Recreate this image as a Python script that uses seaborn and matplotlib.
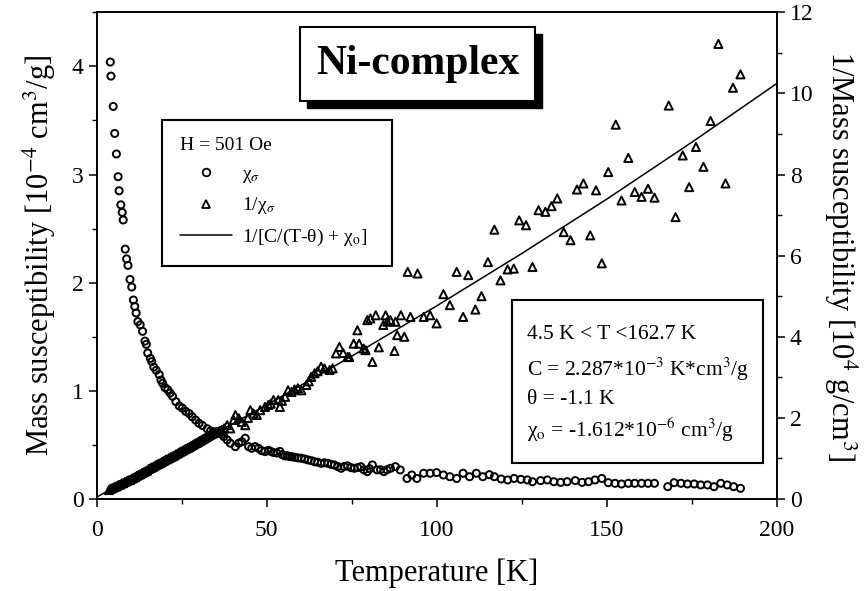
import matplotlib
matplotlib.use("Agg")
import matplotlib.pyplot as plt
import seaborn as sns
from matplotlib.lines import Line2D
from matplotlib.patches import Rectangle
from matplotlib.ticker import MultipleLocator

# ---- data: chi (left axis, 10^-4 cm^3/g) ----
chi_T = [4.0, 4.2, 4.85, 5.3, 5.8, 6.3, 6.6, 7.1, 7.5, 7.8, 8.4, 8.8, 9.2, 9.8, 10.3,
         10.8, 11.2, 11.6, 12.1, 12.8, 13.5, 14.2, 14.6, 15.0, 15.8, 16.2, 16.8, 17.5,
         18.4, 18.9, 19.4, 20.1, 20.9, 21.6, 22.3, 23.3, 24.3, 25.2, 26.2, 27.2, 28.1,
         29.1, 30.1, 31.1, 32.5, 33.5, 34.3, 35.1, 36.0, 36.9, 37.4, 38.4, 39.3, 40.8,
         41.8, 42.7, 43.7, 44.7, 45.6, 46.6, 47.6, 48.5, 49.5, 50.5, 51.2, 52.0, 53.0,
         53.9, 54.6, 55.4, 56.1, 56.8, 57.5, 58.3, 59.2, 60.2, 61.2, 62.2, 63.1, 64.1,
         65.0, 66.0, 67.0, 68.0, 69.0, 69.9, 70.9, 71.9, 72.8, 73.8, 74.8, 75.8, 76.8,
         77.7, 78.6, 79.6, 80.3, 81.1, 82.5, 83.5, 84.5, 85.4, 86.4, 87.9, 89.3, 91.3,
         92.7, 94.2, 96.2, 98.1, 100.0, 102.0, 103.9, 105.9, 107.8, 109.7, 111.7, 113.6,
         115.5, 117.0, 119.0, 120.9, 122.8, 124.8, 126.7, 128.2, 130.6, 132.6, 134.5,
         136.5, 138.4, 140.8, 142.8, 144.7, 146.6, 148.6, 150.5, 152.5, 154.4, 156.4,
         158.3, 160.3, 162.2, 164.1, 168.0, 169.9, 171.9, 173.8, 175.8, 177.7, 179.7,
         181.6, 183.6, 185.5, 187.4, 189.4]
chi_val = [4.04, 3.91, 3.63, 3.38, 3.19, 2.98, 2.85, 2.72, 2.65, 2.58, 2.31, 2.22, 2.16,
           2.03, 1.96, 1.84, 1.78, 1.72, 1.64, 1.61, 1.55, 1.46, 1.43, 1.35, 1.30, 1.27,
           1.22, 1.19, 1.15, 1.10, 1.07, 1.03, 1.01, 0.98, 0.95, 0.90, 0.86, 0.84, 0.81,
           0.79, 0.76, 0.73, 0.70, 0.68, 0.65, 0.63, 0.62, 0.62, 0.61, 0.60, 0.577, 0.546,
           0.516, 0.484, 0.516, 0.53, 0.562, 0.484, 0.469, 0.484, 0.469, 0.447, 0.438,
           0.45, 0.44, 0.43, 0.425, 0.44, 0.41, 0.398, 0.40, 0.392, 0.39, 0.386, 0.38,
           0.377, 0.37, 0.361, 0.355, 0.345, 0.34, 0.33, 0.335, 0.33, 0.32, 0.315, 0.30,
           0.284, 0.30, 0.306, 0.29, 0.284, 0.29, 0.299, 0.27, 0.253, 0.28, 0.315, 0.269,
           0.27, 0.253, 0.27, 0.284, 0.299, 0.269, 0.19, 0.222, 0.19, 0.238, 0.238, 0.244,
           0.222, 0.206, 0.19, 0.238, 0.206, 0.238, 0.206, 0.225, 0.206, 0.185, 0.176,
           0.19, 0.182, 0.176, 0.16, 0.17, 0.176, 0.16, 0.154, 0.16, 0.17, 0.154, 0.16,
           0.176, 0.19, 0.151, 0.145, 0.139, 0.145, 0.145, 0.145, 0.145, 0.145, 0.114,
           0.151, 0.145, 0.139, 0.139, 0.13, 0.13, 0.114, 0.145, 0.13, 0.114, 0.099]

# ---- data: 1/chi (right axis, 10^4 g/cm^3) ----
inv_T = [3.6, 4.0, 4.4, 4.9, 5.3, 5.8, 6.3, 6.8, 7.3, 7.8, 8.3, 8.8, 9.3, 9.8, 10.3,
         10.8, 11.3, 11.8, 12.3, 12.8, 13.3, 13.8, 14.3, 14.8, 15.3, 15.8, 16.3, 16.8,
         17.3, 17.8, 18.3, 18.8, 19.3, 19.8, 20.3, 20.8, 21.3, 21.8, 22.3, 22.8, 23.3,
         23.8, 24.3, 24.8, 25.3, 25.8, 26.3, 26.8, 27.3, 27.8, 28.3, 28.8, 29.3, 29.8,
         30.3, 30.8, 31.3, 31.8, 32.3, 32.8, 33.3, 33.8, 34.3, 34.8, 35.3, 35.8, 36.3,
         36.8, 37.5, 38.4, 39.3, 40.3, 40.8, 41.8, 42.7, 43.7, 44.5, 45.2, 46.1, 47.1,
         48.1, 49.5, 50.5, 51.2, 52.0, 53.4, 53.9, 54.5, 55.4, 56.3, 57.3, 58.2, 59.2,
         60.2, 61.7, 62.4, 63.1, 64.1, 65.0, 66.0, 67.0, 68.5, 69.4, 70.4, 71.4, 72.5,
         73.8, 74.3, 75.6, 76.7, 77.2, 78.5, 79.1, 79.6, 80.5, 81.1, 82.1, 83.0, 84.3,
         85.0, 85.5, 86.4, 87.6, 87.9, 88.4, 89.5, 90.5, 91.5, 92.3, 94.4, 96.2, 98.1,
         100.0, 102.0, 103.9, 105.9, 107.8, 109.3, 111.4, 113.2, 115.1, 117.0, 118.8,
         120.9, 122.7, 124.3, 126.3, 128.2, 130.0, 132.0, 133.8, 135.5, 137.4, 139.4,
         141.3, 143.2, 145.2, 146.9, 148.6, 150.5, 152.7, 154.4, 156.4, 158.3, 160.3,
         162.2, 164.1, 168.3, 170.3, 172.4, 174.3, 176.3, 178.5, 180.6, 182.9, 185.0,
         187.2, 189.4]
inv_val = [0.22, 0.25, 0.26, 0.28, 0.30, 0.31, 0.34, 0.35, 0.38, 0.39, 0.42, 0.44, 0.46,
           0.47, 0.50, 0.52, 0.54, 0.57, 0.59, 0.61, 0.64, 0.66, 0.68, 0.70, 0.74, 0.76,
           0.78, 0.80, 0.83, 0.85, 0.87, 0.89, 0.92, 0.94, 0.97, 0.98, 1.01, 1.03, 1.05,
           1.07, 1.10, 1.12, 1.15, 1.17, 1.19, 1.22, 1.24, 1.26, 1.28, 1.31, 1.33, 1.36,
           1.38, 1.40, 1.43, 1.45, 1.48, 1.50, 1.53, 1.55, 1.58, 1.60, 1.62, 1.64, 1.65,
           1.66, 1.68, 1.70, 1.74, 1.82, 1.74, 1.95, 2.07, 1.99, 1.90, 1.82, 2.00, 2.19,
           2.11, 2.07, 2.19, 2.27, 2.32, 2.35, 2.44, 2.44, 2.27, 2.42, 2.52, 2.68, 2.64,
           2.70, 2.73, 2.68, 2.81, 2.90, 3.01, 3.10, 3.15, 3.26, 3.22, 3.18, 3.22, 3.59,
           3.75, 3.60, 3.50, 3.50, 3.83, 4.16, 3.83, 3.71, 3.67, 4.41, 4.45, 3.38, 4.53,
           3.74, 4.29, 4.53, 4.37, 4.41, 3.65, 4.37, 4.04, 4.53, 4.00, 5.60, 4.49, 5.56,
           4.49, 4.53, 4.33, 5.05, 4.78, 5.60, 4.49, 5.52, 4.67, 5.00, 5.84, 6.64, 5.39,
           5.66, 5.68, 6.87, 6.75, 5.72, 7.12, 7.08, 7.22, 7.41, 6.58, 6.38, 7.63, 7.78,
           6.50, 7.61, 5.81, 8.06, 9.23, 7.36, 8.41, 7.57, 7.45, 7.65, 7.43, 9.70, 6.95,
           8.47, 7.69, 8.68, 8.19, 9.32, 11.22, 7.78, 10.14, 10.47]

# ---- fit curve (right axis) ----
fit_T = [0, 10, 25, 50, 75, 100, 125, 150, 175, 200]
fit_val = [0.05, 0.49, 1.16, 2.32, 3.52, 4.76, 6.05, 7.39, 8.79, 10.24]

sns.set_theme(style="ticks")
plt.rcParams['font.family'] = ['Liberation Serif', 'DejaVu Serif']
plt.rcParams['mathtext.fontset'] = 'stix'
plt.rcParams['axes.edgecolor'] = 'black'
plt.rcParams['axes.labelcolor'] = 'black'
plt.rcParams['text.color'] = 'black'
plt.rcParams['axes.linewidth'] = 1.2
plt.rcParams['xtick.color'] = 'black'
plt.rcParams['ytick.color'] = 'black'
plt.rcParams['xtick.labelcolor'] = 'black'
plt.rcParams['ytick.labelcolor'] = 'black'

W, H = 865, 591
fig = plt.figure(figsize=(W / 100, H / 100), dpi=100)
fig.patch.set_facecolor('white')
ax = fig.add_axes([96.7 / W, 1 - 499 / H, (776.5 - 96.7) / W, (499 - 12.3) / H])
ax2 = ax.twinx()

sns.scatterplot(x=chi_T, y=chi_val, ax=ax, marker='o', s=26,
                facecolor='none', edgecolor='black', linewidth=1.4, zorder=3)
sns.scatterplot(x=inv_T, y=inv_val, ax=ax2, marker='^', s=34,
                facecolor='none', edgecolor='black', linewidth=1.4, zorder=3)
sns.lineplot(x=fit_T, y=fit_val, ax=ax2, color='black', linewidth=1.1, zorder=4)

ax.set_xlim(0, 200)
ax.set_ylim(0, 4.5)
ax2.set_ylim(0, 12)
ax.xaxis.set_major_locator(MultipleLocator(50))
ax.xaxis.set_minor_locator(MultipleLocator(25))
ax.yaxis.set_major_locator(MultipleLocator(1))
ax.yaxis.set_minor_locator(MultipleLocator(0.5))
ax2.yaxis.set_major_locator(MultipleLocator(2))
ax2.yaxis.set_minor_locator(MultipleLocator(1))

for a in (ax, ax2):
    a.tick_params(which='major', direction='out', length=6, width=1.1, labelsize=17,
                  colors='black')
    a.tick_params(which='minor', direction='out', length=3.5, width=1.0, colors='black')
    for sp in a.spines.values():
        sp.set_visible(True)
        sp.set_color('black')
        sp.set_linewidth(1.2)
ax.tick_params(top=False, right=False, which='both')
ax.tick_params(axis='x', which='major', pad=9)
ax2.tick_params(axis='y', left=False, right=True, which='both')

ax.set_xlabel('Temperature [K]', fontsize=22, labelpad=13, color='black')
ax.set_ylabel(r'Mass susceptibility [10$^{-4}$ cm$^{3}$/g]', fontsize=22, labelpad=10,
              color='black')
ax2.set_ylabel(r'1/Mass susceptibility [10$^{4}$ g/cm$^{3}$]', fontsize=22,
               rotation=270, labelpad=33, color='black')

# ---- title box with shadow ----
def fig_rect(x0, y0, x1, y1, **kw):
    r = Rectangle((x0 / W, 1 - y1 / H), (x1 - x0) / W, (y1 - y0) / H,
                  transform=fig.transFigure, clip_on=False, **kw)
    ax2.add_artist(r)
    return r

fig_rect(307, 34, 542, 108, facecolor='black', edgecolor='black', zorder=10)
fig_rect(300, 27, 535, 101, facecolor='white', edgecolor='black', linewidth=1.5, zorder=11)
ax2.text(417.5 / W, 1 - 64 / H, 'Ni-complex', transform=fig.transFigure,
         ha='center', va='center', fontsize=30, fontweight='bold', zorder=12,
         color='black')

# ---- legend ----
handles = [Line2D([], [], marker='o', linestyle='none', markerfacecolor='none',
                  markeredgecolor='black', markersize=5.5, markeredgewidth=1.3),
           Line2D([], [], marker='^', linestyle='none', markerfacecolor='none',
                  markeredgecolor='black', markersize=6, markeredgewidth=1.3),
           Line2D([], [], color='black', linewidth=1.1)]
labels = [r'χ$_{\sigma}$', r'1/χ$_{\sigma}$', r'1/[C/(T-θ) + χ$_{\mathrm{o}}$]']
leg = ax2.legend(handles, labels, title='H = 501 Oe', loc='upper left',
                 bbox_to_anchor=(162 / W, 1 - 120 / H, 230 / W, 0), mode='expand',
                 bbox_transform=fig.transFigure, frameon=True, fancybox=False,
                 framealpha=1, edgecolor='black', fontsize=14, title_fontsize=14,
                 alignment='left', borderpad=0.9, labelspacing=0.55,
                 handlelength=2.7, handletextpad=0.5, borderaxespad=0)
leg.get_frame().set_linewidth(1.5)
for t in leg.get_texts():
    t.set_color('black')
leg.get_title().set_color('black')
leg.set_zorder(12)

# ---- parameter box ----
fig_rect(512, 300, 763, 463, facecolor='white', edgecolor='black', linewidth=1.5, zorder=11)
param_lines = [r'4.5 K < T <162.7 K',
               r'C = 2.287*10$^{-3}$ K*cm$^{3}$/g',
               r'θ = -1.1 K',
               r'χ$_{\mathrm{o}}$ = -1.612*10$^{-6}$ cm$^{3}$/g']
param_y = [339, 376, 404, 437]
for txt, yy in zip(param_lines, param_y):
    ax2.text(527 / W, 1 - yy / H, txt, transform=fig.transFigure, ha='left',
             va='baseline', fontsize=15.5, zorder=12, color='black')

fig.savefig('out.png', dpi=100)
